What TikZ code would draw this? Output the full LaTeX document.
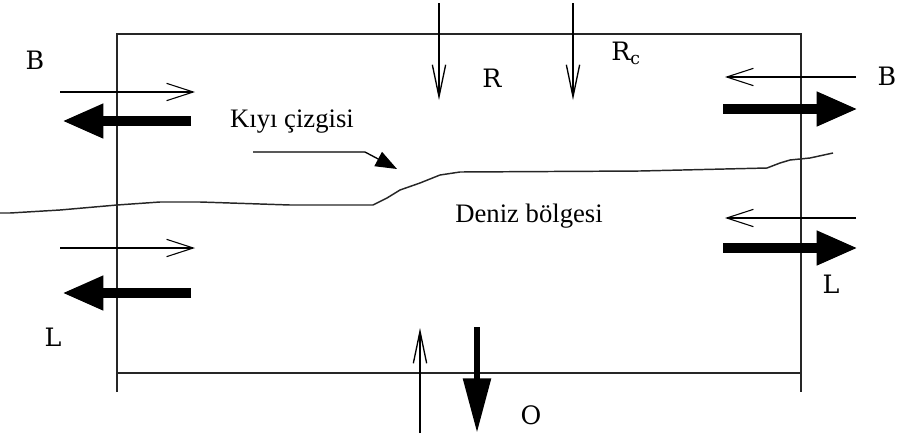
\documentclass[tikz,border=0pt]{standalone}
\usepackage{fontspec}
\newfontfamily\timesfont{Liberation Serif}
\newfontfamily\labfont{DejaVu Serif}
\usetikzlibrary{arrows.meta}
\tikzset{
  frame/.style={line width=1.5pt, black!85},
  thinflow/.style={line width=0.8pt, -{Straight Barb[length=20pt,width=13pt,line width=0.8pt]}},
  thinvert/.style={line width=1pt, -{Straight Barb[length=24pt,width=10pt,line width=1pt]}},
  thickflow/.style={line width=7.5pt, -{Triangle[length=31pt,width=24pt]}},
  thickdown/.style={line width=5pt, -{Triangle[length=41pt,width=20pt]}},
  coast/.style={line width=1.1pt, black!85},
  lab/.style={font=\labfont\fontsize{19}{22}\selectfont, anchor=base, inner sep=0pt},
  txt/.style={font=\timesfont\fontsize{20}{24}\selectfont, anchor=base, inner sep=0pt},
}
\begin{document}
\begin{tikzpicture}[x=0.75pt,y=-0.75pt]
\useasboundingbox (0,0) rectangle (898,436);
% frame
\coordinate (tl) at (117,34);
\coordinate (tr) at (801,34);
\coordinate (bl) at (117,392);
\coordinate (br) at (801,392);
\coordinate (bbl) at (117,373);
\coordinate (bbr) at (801,373);
\draw[frame] (bl) -- (tl) -- (tr) -- (br);
\draw[frame] (bbl) -- (bbr);
% coastline
\draw[coast] (0,213) -- (10,213) -- (60,210) -- (117,205) -- (160,202) -- (200,202)
  -- (290,205) -- (373,205) -- (387,198) -- (400,190) -- (420,183) -- (440,175)
  -- (460,172) -- (640,171) -- (767,168) -- (780,163) -- (790,160) -- (810,158) -- (833,153);
% coast annotation
\node[txt] (kiyi) at (292,127) {Kıyı çizgisi};
\coordinate (a0) at (253,152);
\coordinate (a1) at (365,152);
\coordinate (a2) at (397,169);
\draw[line width=1pt, -{Triangle[length=16pt,width=12pt]}] (a0) -- (a1) -- (a2);
\node[txt] (deniz) at (529,222) {Deniz bölgesi};
% top arrows
\coordinate (r0) at (439,3); \coordinate (r1) at (439,100);
\coordinate (rc0) at (573,3); \coordinate (rc1) at (573,100);
\draw[thinvert] (r0) -- (r1);
\draw[thinvert] (rc0) -- (rc1);
\node[lab] (R) at (492,87) {R};
\node[lab, anchor=base west] (Rc) at (611,60) {R\raisebox{-0.35ex}{\fontsize{13}{15}\selectfont c}};
% left side
\node[lab] (BL) at (35,69) {B};
\coordinate (lb0) at (60,92); \coordinate (lb1) at (195,92);
\draw[thinflow] (lb0) -- (lb1);
\coordinate (lB0) at (191,121); \coordinate (lB1) at (62,121);
\draw[thickflow] (lB0) -- (lB1);
\coordinate (ll0) at (60,248); \coordinate (ll1) at (195,248);
\draw[thinflow] (ll0) -- (ll1);
\coordinate (lL0) at (191,293); \coordinate (lL1) at (62,293);
\draw[thickflow] (lL0) -- (lL1);
\node[lab] (LL) at (53,346) {L};
% right side
\node[lab] (BR) at (887,85) {B};
\coordinate (rb0) at (856,77); \coordinate (rb1) at (725,77);
\draw[thinflow] (rb0) -- (rb1);
\coordinate (rB0) at (723,109); \coordinate (rB1) at (858,109);
\draw[thickflow] (rB0) -- (rB1);
\coordinate (rl0) at (856,218); \coordinate (rl1) at (725,218);
\draw[thinflow] (rl0) -- (rl1);
\coordinate (rL0) at (723,248); \coordinate (rL1) at (858,248);
\draw[thickflow] (rL0) -- (rL1);
\node[lab] (LR) at (831,293) {L};
% bottom
\coordinate (u0) at (420,433); \coordinate (u1) at (420,328);
\draw[thinvert] (u0) -- (u1);
\coordinate (o0) at (477,327); \coordinate (o1) at (477,433);
\draw[thickdown] (o0) -- (o1);
\node[lab] (O) at (531,424) {O};
\end{tikzpicture}
\end{document}
